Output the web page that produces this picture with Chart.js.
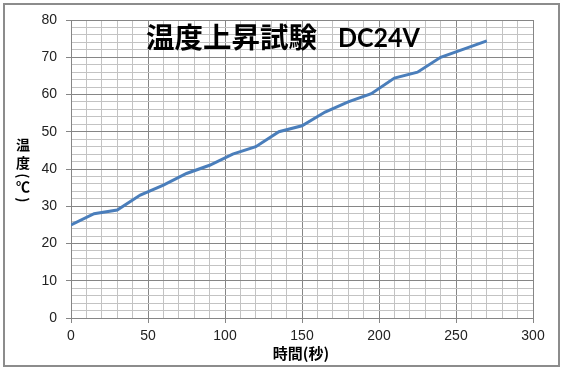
<!DOCTYPE html>
<html>
<head>
<meta charset="utf-8">
<script src="https://cdn.jsdelivr.net/npm/chart.js@4"></script>
<style>
  body { margin: 0; background: #fff; }
  canvas { display: block; }
</style>
</head>
<body>
<canvas id="tempChart" width="563" height="372"></canvas>
<script>
// 時間(秒) and 温度(℃)
const seconds = [0, 15, 30, 45, 60, 75, 90, 105, 120, 135, 150, 165, 180, 195, 210, 225, 240, 255, 270];
const temps = [25, 28, 29, 33, 35.7, 38.8, 41, 44, 46, 50, 51.6, 55.3, 58, 60.2, 64.4, 66, 70, 72.2, 74.4];

const titleJa = '温度上昇試験';
const titleEn = 'DC24V';
const xTitle = '時間(秒)';
const yTitleChars = ['温', '度', '(', '℃', ')'];

const majorGrid = '#868686';
const minorGrid = '#c3c3c3';

// frame + overlay texts, the way the Excel chart has them
const decorations = {
    id: 'decorations',
    beforeDraw(chart) {
        const ctx = chart.ctx;
        ctx.save();
        ctx.fillStyle = '#fff';
        ctx.fillRect(0, 0, chart.width, chart.height);
        ctx.strokeStyle = '#8c8c8c';
        ctx.lineWidth = 2;
        ctx.strokeRect(4, 4, 555, 362);
        ctx.restore();
    },
    afterDraw(chart) {
        const ctx = chart.ctx;
        ctx.save();
        ctx.fillStyle = '#000';

        // title sits inside the plot area
        ctx.textAlign = 'left';
        ctx.textBaseline = 'middle';
        ctx.font = 'bold 28.5px "Noto Sans CJK JP"';
        ctx.fillText(titleJa, 146, 37);
        ctx.font = 'bold 27px Lato';
        ctx.fillText(titleEn, 338, 38, 82);

        // x title
        ctx.font = 'bold 15px "Noto Sans CJK JP"';
        ctx.textAlign = 'center';
        ctx.fillText(xTitle, 301, 353);

        // y title, stacked characters
        const ys = [145, 163, 176, 187, 200];
        ctx.font = 'bold 14px "Noto Sans CJK JP"';
        yTitleChars.forEach((ch, i) => {
            ctx.save();
            ctx.translate(23, ys[i]);
            if (ch === '(' || ch === ')') {
                ctx.rotate(Math.PI / 2);
            }
            ctx.fillText(ch, 0, 0);
            ctx.restore();
        });
        ctx.restore();
    }
};

const ctx = document.getElementById('tempChart').getContext('2d');
new Chart(ctx, {
    type: 'line',
    data: {
        datasets: [{
            data: seconds.map((s, i) => ({ x: s, y: temps[i] })),
            borderColor: 'rgb(74, 126, 187)',
            borderWidth: 3,
            pointRadius: 0,
            tension: 0,
            fill: false
        }]
    },
    options: {
        responsive: false,
        animation: false,
        layout: { padding: { left: 0, top: 20, right: 30, bottom: 0 } },
        plugins: {
            legend: { display: false },
            tooltip: { enabled: false }
        },
        scales: {
            x: {
                type: 'linear',
                min: 0,
                max: 300,
                afterFit: (s) => { s.height = 54; },
                ticks: {
                    stepSize: 10,
                    autoSkip: false,
                    maxRotation: 0,
                    padding: 5,
                    color: '#222',
                    font: { family: '"Liberation Sans"', size: 14 },
                    callback: (v) => (v % 50 === 0 ? v : '')
                },
                grid: {
                    color: (c) => (c.tick && c.tick.value % 50 === 0 ? majorGrid : minorGrid),
                    tickColor: (c) => (c.tick && c.tick.value % 50 === 0 ? majorGrid : 'rgba(0,0,0,0)'),
                    tickLength: 5
                },
                border: { color: majorGrid }
            },
            y: {
                min: 0,
                max: 80,
                afterFit: (s) => { s.width = 71; },
                ticks: {
                    stepSize: 2,
                    autoSkip: false,
                    padding: 9,
                    color: '#222',
                    font: { family: '"Liberation Sans"', size: 14 },
                    callback: (v) => (v % 10 === 0 ? v : '')
                },
                grid: {
                    color: (c) => (c.tick && c.tick.value % 10 === 0 ? majorGrid : minorGrid),
                    tickColor: (c) => (c.tick && c.tick.value % 10 === 0 ? majorGrid : 'rgba(0,0,0,0)'),
                    tickLength: 5
                },
                border: { color: majorGrid }
            }
        }
    },
    plugins: [decorations]
});
</script>
</body>
</html>
